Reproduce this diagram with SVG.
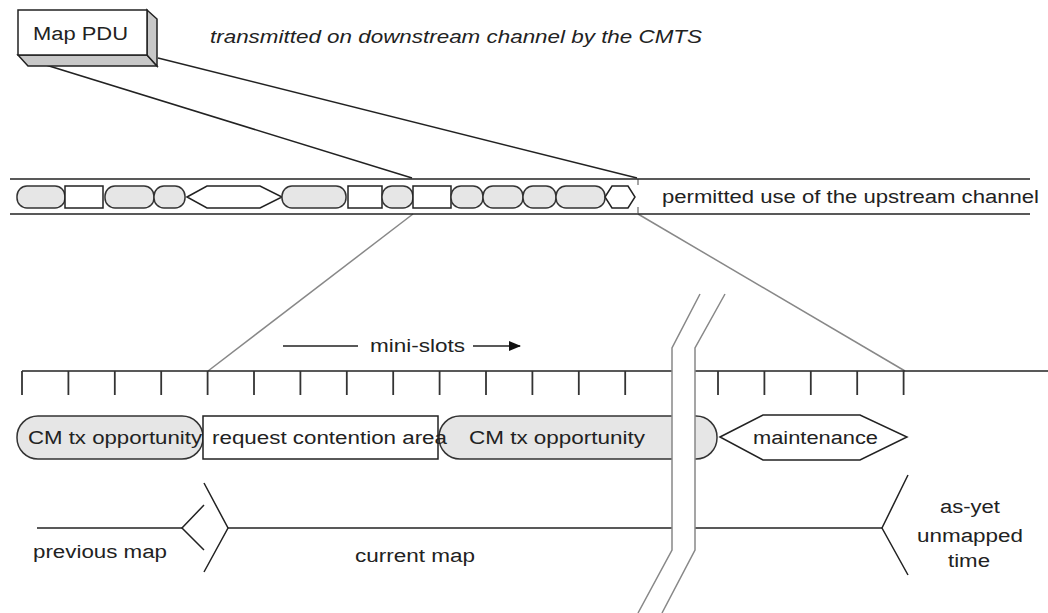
<svg xmlns="http://www.w3.org/2000/svg" width="1048" height="613" viewBox="0 0 1048 613">
<defs>
<style>
.t{font-family:"Liberation Sans",Arial,sans-serif;font-size:18px;fill:#222}
.it{font-style:italic}
.rnd{fill:#e6e6e6;stroke:#333;stroke-width:1.5}
.box{fill:#fff;stroke:#222;stroke-width:1.5}
.ln{stroke:#222;stroke-width:1.5;fill:none}
.gl{stroke:#888;stroke-width:1.5;fill:none}
.tick{stroke:#333;stroke-width:1.8}
</style>
<marker id="arr" markerWidth="12" markerHeight="10" refX="11" refY="5" orient="auto" markerUnits="userSpaceOnUse">
<path d="M0,0 L12,5 L0,10 Z" fill="#111"/>
</marker>
</defs>
<rect width="1048" height="613" fill="#fff"/>

<g id="connectors">
<line class="ln" x1="20" y1="57" x2="412" y2="178"/>
<line class="ln" x1="158" y1="58" x2="637" y2="178"/>
<line class="gl" x1="413" y1="214" x2="208" y2="371"/>
<line class="gl" x1="638" y1="214" x2="905" y2="371"/>
<line x1="638" y1="179" x2="638" y2="214" stroke="#888" stroke-width="1.5" stroke-dasharray="6,22"/>
</g>

<g id="map-pdu">
<polygon points="18,55 147,55 157,66 28,66" fill="#c8c8c8" stroke="#222" stroke-width="1.5"/>
<polygon points="147,10 157,19 157,66 147,55" fill="#c8c8c8" stroke="#222" stroke-width="1.5"/>
<rect x="18" y="10" width="129" height="45" class="box"/>
<text class="t" x="33" y="40" font-size="19" textLength="95" lengthAdjust="spacingAndGlyphs">Map PDU</text>
</g>

<g id="caption">
<text class="t it" x="210" y="43" textLength="492" lengthAdjust="spacingAndGlyphs">transmitted on downstream channel by the CMTS</text>
</g>

<g id="upstream">
<line class="ln" x1="10" y1="179" x2="1030" y2="179"/>
<line class="ln" x1="10" y1="214" x2="1030" y2="214"/>
<rect class="rnd" x="17" y="186" width="48" height="22" rx="10"/>
<rect class="box" x="65" y="186" width="38" height="22"/>
<rect class="rnd" x="105" y="186" width="49" height="22" rx="10"/>
<rect class="rnd" x="154" y="186" width="31" height="22" rx="10"/>
<polygon class="box" points="187,197 207,186 260,186 282,197 260,208 207,208"/>
<rect class="rnd" x="282" y="186" width="64" height="22" rx="10"/>
<rect class="box" x="348" y="186" width="34" height="22"/>
<rect class="rnd" x="382" y="186" width="31" height="22" rx="10"/>
<rect class="box" x="413" y="186" width="38" height="22"/>
<rect class="rnd" x="451" y="186" width="32" height="22" rx="10"/>
<rect class="rnd" x="483" y="186" width="40" height="22" rx="10"/>
<rect class="rnd" x="523" y="186" width="33" height="22" rx="10"/>
<rect class="rnd" x="556" y="186" width="49" height="22" rx="10"/>
<polygon class="box" points="605,197 612,186 628,186 635,197 628,208 612,208"/>
<text class="t" x="662" y="203" textLength="377" lengthAdjust="spacingAndGlyphs">permitted use of the upstream channel</text>
</g>

<g id="mini-slots">
<line class="ln" x1="283" y1="346" x2="358" y2="346"/>
<text class="t" x="370" y="352" textLength="95" lengthAdjust="spacingAndGlyphs">mini-slots</text>
<line class="ln" x1="473" y1="346" x2="520" y2="346" marker-end="url(#arr)"/>
</g>

<g id="ruler">
<line class="ln" x1="22" y1="371" x2="1048" y2="371"/>
<g class="tick">
<line x1="22" y1="371" x2="22" y2="395"/>
<line x1="68.4" y1="371" x2="68.4" y2="395"/>
<line x1="114.8" y1="371" x2="114.8" y2="395"/>
<line x1="161.2" y1="371" x2="161.2" y2="395"/>
<line x1="207.6" y1="371" x2="207.6" y2="395"/>
<line x1="254" y1="371" x2="254" y2="395"/>
<line x1="300.4" y1="371" x2="300.4" y2="395"/>
<line x1="346.8" y1="371" x2="346.8" y2="395"/>
<line x1="393.2" y1="371" x2="393.2" y2="395"/>
<line x1="439.6" y1="371" x2="439.6" y2="395"/>
<line x1="486" y1="371" x2="486" y2="395"/>
<line x1="532.4" y1="371" x2="532.4" y2="395"/>
<line x1="578.8" y1="371" x2="578.8" y2="395"/>
<line x1="625.2" y1="371" x2="625.2" y2="395"/>
<line x1="718" y1="371" x2="718" y2="395"/>
<line x1="764.4" y1="371" x2="764.4" y2="395"/>
<line x1="810.8" y1="371" x2="810.8" y2="395"/>
<line x1="857.2" y1="371" x2="857.2" y2="395"/>
<line x1="903.6" y1="371" x2="903.6" y2="395"/>
</g>
</g>

<g id="cm-tx-1">
<rect class="rnd" x="17" y="416" width="186" height="43" rx="21"/>
<text class="t" x="28" y="444" textLength="174" lengthAdjust="spacingAndGlyphs">CM tx opportunity</text>
</g>
<g id="cm-tx-2">
<rect class="rnd" x="439" y="416" width="278" height="43" rx="21"/>
<text class="t" x="469" y="444" textLength="176" lengthAdjust="spacingAndGlyphs">CM tx opportunity</text>
</g>
<g id="request-contention">
<rect class="box" x="203" y="416" width="235" height="43"/>
<text class="t" x="212" y="444" textLength="235" lengthAdjust="spacingAndGlyphs">request contention area</text>
</g>
<g id="maintenance">
<polygon class="box" points="720,437 763,415 860,415 907,437 860,460 763,460"/>
<text class="t" x="753" y="444" textLength="125" lengthAdjust="spacingAndGlyphs">maintenance</text>
</g>

<g id="timeline">
<line class="ln" x1="37" y1="528" x2="182" y2="528"/>
<polyline class="ln" points="204,505 182,528 204,550"/>
<polyline class="ln" points="204,483 228,528 204,572"/>
<line class="ln" x1="228" y1="528" x2="882" y2="528"/>
<polyline class="ln" points="908,475 882,528 908,575"/>
<text class="t" x="33" y="558" textLength="134" lengthAdjust="spacingAndGlyphs">previous map</text>
<text class="t" x="355" y="562" textLength="120" lengthAdjust="spacingAndGlyphs">current map</text>
<text class="t" x="940" y="513" textLength="60" lengthAdjust="spacingAndGlyphs">as-yet</text>
<text class="t" x="917" y="542" textLength="106" lengthAdjust="spacingAndGlyphs">unmapped</text>
<text class="t" x="948" y="567" textLength="42" lengthAdjust="spacingAndGlyphs">time</text>
</g>

<g id="break">
<polygon points="700,294 725,294 695,348 695,550 662,613 638,613 672,550 672,348" fill="#fff"/>
<polyline class="gl" points="700,294 672,348 672,550 638,613"/>
<polyline class="gl" points="725,294 695,348 695,550 662,613"/>
</g>
</svg>
